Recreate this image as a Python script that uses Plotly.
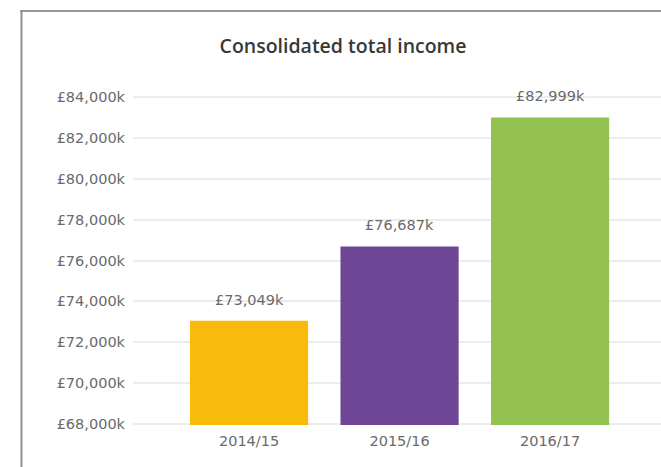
import plotly.graph_objects as go

# Consolidated total income by financial year (£ thousands)
years = ["2014/15", "2015/16", "2016/17"]
income_k = [73049, 76687, 82999]
bar_colors = ["#F9BB0B", "#6F4596", "#93C152"]
tick_values = [68000, 70000, 72000, 74000, 76000, 78000, 80000, 82000, 84000]
tick_labels = ["£{:,}k".format(v) for v in tick_values]
value_labels = ["£{:,}k".format(v) for v in income_k]

W, H = 661, 467
ML, MR, MT, MB = 133, 0, 96, 42
plot_w = W - ML - MR
plot_h = H - MT - MB

FONT = "DejaVu Sans"
GREY = "#6a6a6a"
TXT = 14.5

fig = go.Figure()
fig.add_trace(go.Bar(
    x=years,
    y=income_k,
    marker=dict(color=bar_colors, line=dict(width=0)),
    hoverinfo="skip",
))

for yr, v, lab in zip(years, income_k, value_labels):
    fig.add_annotation(
        x=yr, y=v, text=lab, showarrow=False,
        yanchor="bottom", yshift=11,
        font=dict(family=FONT, size=TXT, color=GREY),
    )

# Frame: dark top rule and grey left rule
def px_to_paper_x(px):
    return (px - ML) / plot_w

def px_to_paper_y(py):
    return (H - MB - py) / plot_h

fig.add_shape(type="line", xref="paper", yref="paper",
              x0=px_to_paper_x(20), x1=px_to_paper_x(W + 5),
              y0=px_to_paper_y(11), y1=px_to_paper_y(11),
              line=dict(color="#333333", width=1.2))
fig.add_shape(type="line", xref="paper", yref="paper",
              x0=px_to_paper_x(21.5), x1=px_to_paper_x(21.5),
              y0=px_to_paper_y(11), y1=px_to_paper_y(H + 5),
              line=dict(color="#8f8f8f", width=2))

fig.update_layout(
    width=W, height=H,
    margin=dict(l=ML, r=MR, t=MT, b=MB, pad=0),
    paper_bgcolor="white",
    plot_bgcolor="white",
    showlegend=False,
    bargap=0.215,
    title=dict(
        text="Consolidated total income",
        x=343 / W, xanchor="center",
        y=1 - 46 / H, yanchor="middle",
        font=dict(family="Open Sans", size=19.5, color="#383838", weight=600),
    ),
    xaxis=dict(
        range=[-0.771, 2.737],
        showgrid=False, zeroline=False, showline=False,
        ticks="", tickfont=dict(family=FONT, size=TXT, color=GREY),
        ticklabelstandoff=5,
    ),
    yaxis=dict(
        range=[67950, 84050],
        tickvals=tick_values, ticktext=tick_labels,
        showgrid=True, gridcolor="#ececec", gridwidth=2,
        zeroline=False, showline=False, ticks="",
        tickfont=dict(family=FONT, size=TXT, color=GREY),
        ticklabelstandoff=7,
    ),
)

fig.write_html("out.html")
